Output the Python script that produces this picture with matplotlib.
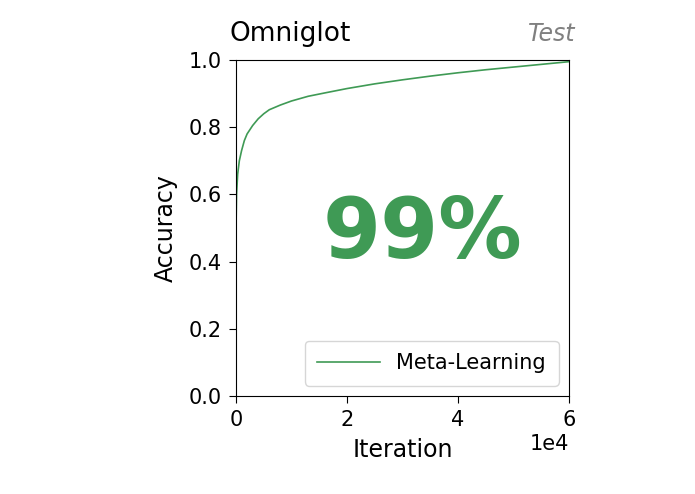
import matplotlib
matplotlib.use("Agg")
import matplotlib.pyplot as plt

iterations = [0, 100, 300, 600, 1000, 1500, 2000, 3000, 4000, 5000, 6000, 8000, 10000, 13000, 16000, 20000, 25000, 30000, 35000, 40000, 45000, 50000, 55000, 60000]
accuracy = [0.50, 0.60, 0.66, 0.70, 0.73, 0.76, 0.78, 0.805, 0.825, 0.84, 0.852, 0.866, 0.878, 0.892, 0.902, 0.915, 0.929, 0.941, 0.952, 0.962, 0.971, 0.979, 0.987, 0.995]

green = "#3f9a55"
fig = plt.figure(figsize=(6.95, 4.94), dpi=100)
ax = fig.add_axes([236/695, 1-396/494, 333/695, 336/494])
ax.plot(iterations, accuracy, color=green, lw=1.2, label="Meta-Learning")
ax.set_xlim(0, 60000)
ax.set_ylim(0, 1.0)
ax.set_xticks([0, 20000, 40000, 60000])
ax.set_yticks([0, 0.2, 0.4, 0.6, 0.8, 1.0])
ax.ticklabel_format(axis="x", style="sci", scilimits=(0, 0))
ax.xaxis.get_offset_text().set_fontsize(15)
ax.tick_params(labelsize=15, length=5, pad=5)
ax.set_xlabel("Iteration", fontsize=17, labelpad=6)
ax.set_ylabel("Accuracy", fontsize=17, labelpad=8)
ax.set_title("Omniglot", loc="left", fontsize=19, pad=14, x=-0.02)
ax.set_title("Test", loc="right", fontsize=17, style="italic", color="gray", pad=14, x=1.02)
ax.text(0.56, 0.48, "99%", transform=ax.transAxes, ha="center", va="center",
        fontsize=60, fontweight="bold", color=green)
ax.legend(loc="lower right", fontsize=15, borderpad=0.6, handlelength=3)
fig.savefig("out.png", dpi=100)
